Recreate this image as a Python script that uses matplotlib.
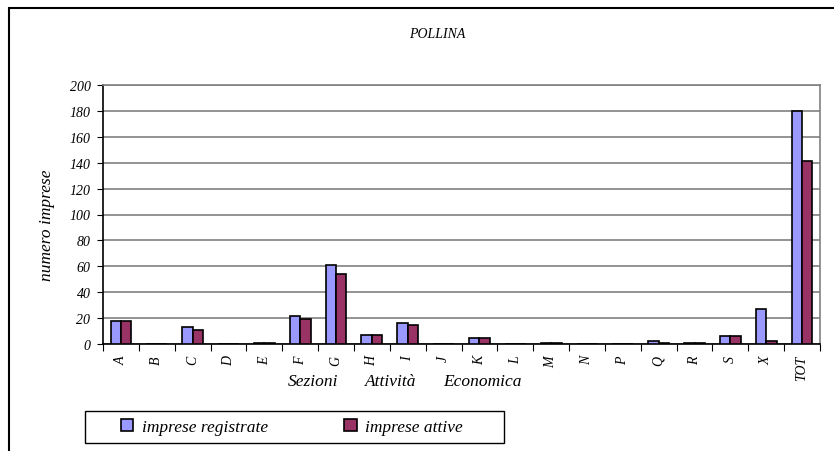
import numpy as np
import matplotlib
matplotlib.use("Agg")
import matplotlib.pyplot as plt
from matplotlib.patches import Rectangle

plt.rcParams['font.family'] = ['Liberation Serif', 'DejaVu Serif']
plt.rcParams['font.style'] = 'italic'

sezioni = ['A', 'B', 'C', 'D', 'E', 'F', 'G', 'H', 'I', 'J', 'K', 'L',
           'M', 'N', 'P', 'Q', 'R', 'S', 'X', 'TOT']
registrate = [18, 0, 13, 0, 1, 22, 61, 7, 16, 0, 5, 0, 1, 0, 0, 2, 1, 6, 27, 180]
attive = [18, 0, 11, 0, 1, 19, 54, 7, 15, 0, 5, 0, 1, 0, 0, 1, 1, 6, 2, 141]
xlabel_parti = ['Sezioni', 'Attività', 'Economica']

W, H = 834, 452
fig = plt.figure(figsize=(W / 100, H / 100), dpi=100)
ax = fig.add_axes([103 / W, 1 - 345 / H, (820 - 103) / W, (345 - 86) / H])

x = np.arange(len(sezioni))
bw = 0.29
ax.bar(x - bw / 2, registrate, bw, color='#9999FF', edgecolor='black', linewidth=1.2,
       label='imprese registrate', zorder=3)
ax.bar(x + bw / 2, attive, bw, color='#993366', edgecolor='black', linewidth=1.2,
       label='imprese attive', zorder=3)

ax.set_xlim(-0.5, len(sezioni) - 0.5)
ax.set_ylim(0, 200)
ax.set_yticks(range(0, 201, 20))
ax.yaxis.grid(True, color='#808080', linewidth=1.2, zorder=0)
ax.tick_params(axis='y', direction='out', length=4, labelsize=10, pad=5)

# tick marks between categories, labels at centers
ax.set_xticks(np.arange(-0.5, len(sezioni), 1))
ax.set_xticklabels([])
ax.set_xticks(x, minor=True)
ax.set_xticklabels(sezioni, minor=True, rotation=90, fontsize=10)
ax.tick_params(axis='x', which='major', direction='out', length=5)
ax.tick_params(axis='x', which='minor', length=0, pad=8)

ax.spines['left'].set_color('black')
ax.spines['bottom'].set_color('black')
ax.spines['top'].set_color('#808080')
ax.spines['right'].set_color('#808080')
for s in ax.spines.values():
    s.set_linewidth(1.2)

ax.set_ylabel('numero imprese', fontsize=12.5)
ax.yaxis.set_label_coords(-0.067, 0.463)
for testo, xc in zip(xlabel_parti, [313, 391, 482]):
    fig.text(xc / W, 1 - 382 / H, testo, ha='center', va='center', fontsize=12.5)
fig.text(437 / W, 1 - 34 / H, 'POLLINA', ha='center', va='center', fontsize=10)

# legend box
fig.patches.append(Rectangle((85 / W, 1 - 444 / H), 419 / W, 32 / H, transform=fig.transFigure,
                             facecolor='white', edgecolor='black', linewidth=1))
fig.legend(loc='center', bbox_to_anchor=(292 / W, 1 - 428 / H), ncol=2, frameon=False,
           fontsize=12.5, handlelength=0.7, handleheight=0.7, handletextpad=0.5,
           columnspacing=4.4)

# outer chart frame
fig.patches.append(Rectangle((9 / W, -0.1), 1.2, 1.1 - 9 / H, transform=fig.transFigure,
                             facecolor='none', edgecolor='black', linewidth=1.5))

fig.savefig('out.png', dpi=100)
